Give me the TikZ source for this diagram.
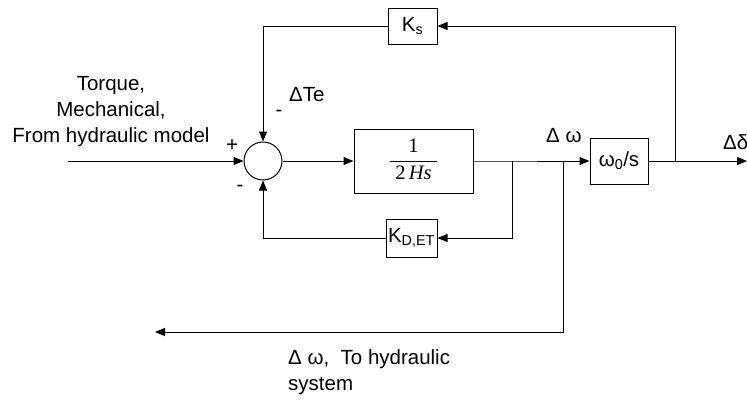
\documentclass[tikz,border=0pt]{standalone}
\usepackage{fontspec}
\setmainfont{Liberation Sans}
\newfontfamily\serifface{Liberation Serif}
\usetikzlibrary{arrows.meta}
\begin{document}
\begin{tikzpicture}[x=1pt,y=-1pt,
  every node/.style={font=\fontsize{20.5}{26}\selectfont},
  blk/.style={draw, line width=1pt, inner sep=0pt},
  sumc/.style={draw, circle, line width=1pt, minimum size=38pt, inner sep=0pt},
  sig/.style={line width=1pt},
  arr/.style={-{Triangle[length=10pt,width=8pt]}},
  lbl/.style={inner sep=0pt}]
\useasboundingbox (0,0) rectangle (747,400);
% blocks
\node[sumc] (sum) at (263,161) {};
\node[blk, minimum width=49pt, minimum height=36pt] (ks) at (412.5,26) {K\textsubscript{s}};
\node[blk, minimum width=119pt, minimum height=64pt] (g) at (413.5,161)
  {\serifface\renewcommand{\arraystretch}{1.0}\begin{tabular}{@{\hspace{5pt}}c@{\hspace{5pt}}}1\\[1pt]\hline 2\,\textit{Hs}\end{tabular}};
\node[blk, minimum width=51pt, minimum height=38pt] (kd) at (411.5,238) {K\textsubscript{D,ET}};
\node[blk, minimum width=58pt, minimum height=46pt] (w0) at (619,161) {ω\textsubscript{0}/s};
% branch points
\coordinate (in) at (68,161);
\coordinate (b1) at (512,161);
\coordinate (b2) at (563,161);
\coordinate (b3) at (675,161);
\coordinate (out) at (747,161);
\coordinate (fb) at (155,332);
% connectors
\draw[sig,arr] (in) -- (sum.west);
\draw[sig,arr] (sum.east) -- (g.west);
\draw[sig] (g.east) -- (b1) -- (b2);
\draw[sig,arr] (b2) -- (w0.west);
\draw[sig] (w0.east) -- (b3);
\draw[sig,arr] (b3) -- (out);
\draw[sig,arr] (b3) |- (ks.east);
\draw[sig,arr] (ks.west) -| (sum.north);
\draw[sig,arr] (b1) |- (kd.east);
\draw[sig,arr] (kd.west) -| (sum.south);
\draw[sig,arr] (b2) |- (fb);
% labels
\node[lbl, align=center, anchor=north] (tq) at (111,76) {Torque,\\Mechanical,\\From hydraulic model};
\node[lbl, anchor=base west] (dte) at (289,101) {ΔTe};
\node[lbl] (mtop) at (279,113) {-};
\node[lbl] (plus) at (232,146) {+};
\node[lbl] (mbot) at (240,188) {-};
\node[lbl, anchor=base west] (dw) at (546,142) {Δ ω};
\node[lbl, anchor=base west] (dd) at (723,149) {Δδ};
\node[lbl, align=left, anchor=north west] (hyd) at (288,349) {Δ ω,\ \ To hydraulic\\system};
\end{tikzpicture}
\end{document}
